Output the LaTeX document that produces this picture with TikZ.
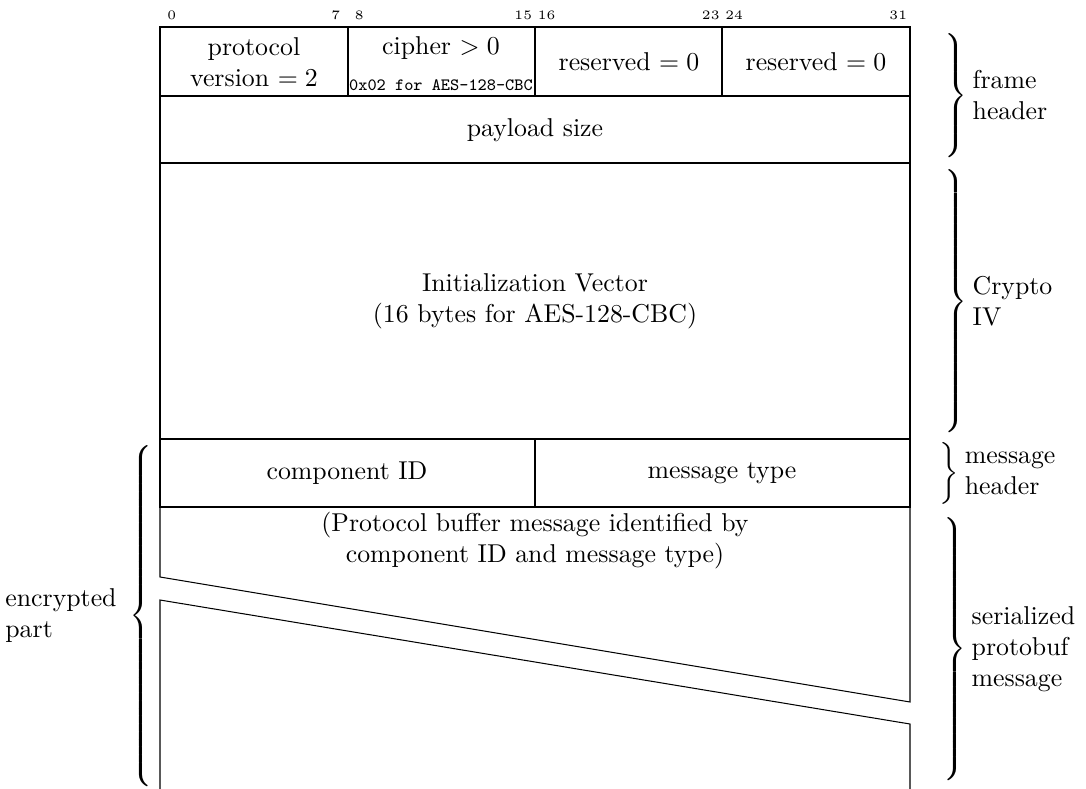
\documentclass[tikz,border=0pt]{standalone}
\usepackage{tikz}
\usetikzlibrary{positioning}
\tikzset{
  frameline/.style={line width=0.4pt, black},
  cell/.style={inner sep=0pt, align=center},
  bitnum/.style={inner sep=0pt, font=\tiny},
  sidebrace/.style={inner sep=0pt, outer sep=0pt},
  sidelabel/.style={inner sep=0pt, align=left},
}
\newcommand{\bracer}[1]{$\left.\vcenter{\hrule height #1 width 0pt}\right\}$}
\newcommand{\bracel}[1]{$\left\{\vcenter{\hrule height #1 width 0pt}\right.$}

\begin{document}
\begin{tikzpicture}[x=0.3876pt, y=-0.3876pt]
  \useasboundingbox (0,0) rectangle (1086,789);

  % ---- bit numbers over the first word ------------------------------------
  \foreach \b in {0,7,8,15,16,23,24,31} {
    \pgfmathsetmacro{\bx}{160 + (\b+0.5)*23.4375}
    \node[bitnum] (bit\b) at (\bx,15.5) {\b};
  }

  % ---- frame header, crypto IV and message header -------------------------
  \draw[frameline] (160,27) rectangle (910,439);
  \draw[frameline] (160,96) -- (910,96) (160,163) -- (910,163);
  \foreach \x in {348,535,722}
    \draw[frameline] (\x,27) -- (\x,96);
  \draw[frameline] (160,439) rectangle (910,507);
  \draw[frameline] (535,439) -- (535,507);

  \node[cell] (version) at (254,62) {protocol\\version $=2$};
  \node[cell] (cipher) at (441,64)
    {cipher $>0$\\[2pt]{\fontsize{6.7pt}{8pt}\ttfamily 0x02 for AES-128-CBC}};
  \node[cell] (resA) at (629,62) {reserved $=0$};
  \node[cell] (resB) at (816,62) {reserved $=0$};
  \node[cell] (size) at (535,130) {payload size};
  \node[cell] (iv) at (535,301)
    {Initialization Vector\\(16 bytes for AES-128-CBC)};
  \node[cell] (compid) at (347,473) {component ID};
  \node[cell] (msgtype) at (722,473) {message type};

  % ---- the protobuf message, cut by a gap ---------------------------------
  \draw[frameline] (160,507) -- (160,577) -- (910,702) -- (910,507);
  \draw[frameline] (160,789) -- (160,600) -- (910,724) -- (910,789);
  \node[cell, anchor=north] (proto) at (535,512)
    {(Protocol buffer message identified by\\component ID and message type)};

  % ---- braces and their labels --------------------------------------------
  \node[sidebrace] (bFrame) at (954,95.5) {\bracer{53pt}};
  \node[sidelabel, right=2pt of bFrame] (lFrame) {frame\\header};
  \node[sidebrace] (bIV) at (954,301.5) {\bracer{102pt}};
  \node[sidelabel, right=2pt of bIV] (lIV) {Crypto\\IV};
  \node[sidebrace] (bMsg) at (948,473) {\bracer{26pt}};
  \node[sidelabel, right=2pt of bMsg] (lMsg) {message\\header};
  \node[sidebrace] (bProto) at (953,649) {\bracer{107pt}};
  \node[sidelabel, right=2pt of bProto] (lProto)
    {serialized\\protobuf\\message};
  \node[sidebrace] (bEnc) at (143,616) {\bracel{132pt}};
  \node[sidelabel, left=5pt of bEnc] (lEnc) {encrypted\\part};
\end{tikzpicture}
\end{document}
